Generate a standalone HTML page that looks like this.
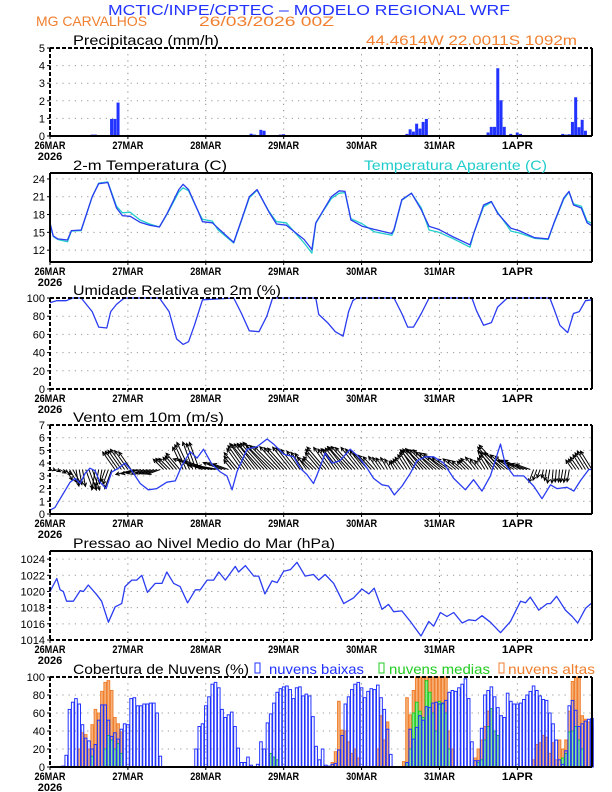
<!DOCTYPE html>
<html><head><meta charset="utf-8"><style>
html,body{margin:0;padding:0;background:#fff;}
svg{display:block;}
text{font-family:"Liberation Sans",sans-serif;}
</style></head><body>
<svg id="chart" width="612" height="792" viewBox="0 0 612 792" xmlns="http://www.w3.org/2000/svg">
<rect x="0" y="0" width="612" height="792" fill="#fff"/>
<text x="108" y="15" font-size="15" fill="#2233ff" textLength="402" lengthAdjust="spacingAndGlyphs">MCTIC/INPE/CPTEC – MODELO REGIONAL WRF</text>
<text x="36" y="26" font-size="14" fill="#f08030" textLength="111" lengthAdjust="spacingAndGlyphs">MG CARVALHOS</text>
<text x="199" y="26" font-size="14" fill="#f08030" textLength="135" lengthAdjust="spacingAndGlyphs">26/03/2026 00Z</text>
<text x="366" y="45" font-size="14" fill="#f08030" textLength="211" lengthAdjust="spacingAndGlyphs">44.4614W 22.0011S 1092m</text>
<g id="g"></g>
</svg>
<script>
const dayLabels = ["26MAR","27MAR","28MAR","29MAR","30MAR","31MAR","1APR"];
const precipHours = [8,13,14,19,20,21,62,63,65,66,71,72,73,110,111,112,113,114,115,116,133,135,136,137,138,139,140,142,144,145,157,158,159,160,161,162,163,164,165];
const precipVals = [0.02,0.08,0.08,0.97,0.97,1.9,0.13,0.08,0.35,0.3,0.08,0.1,0.05,0.12,0.38,0.25,0.7,0.42,0.8,0.97,0.02,0.2,0.52,0.52,3.85,2.03,0.52,0.12,0.2,0.12,0.05,0.12,0.08,0.1,0.8,2.2,0.5,0.92,0.3];
const tempHours = [0,1,2.4,5.4,6.6,9.6,13,15,17.8,20.5,22.3,24.7,27.7,30.7,33.7,36.1,39.7,41,42.7,45.7,47,50,51.8,56.6,59,61.4,63.8,67.4,69.8,72.8,78.3,80.7,81.9,84.3,86.7,89.1,90.9,92.7,96.3,99.9,105.3,106,108.4,111.4,114.4,116.8,119.8,124,129.4,130.6,133.6,136,137.9,142,144.5,149.3,153.5,155.3,158.3,159.9,161.3,163.7,165.5,167];
const tempVals = [16.6,14.4,13.9,13.7,15.3,15.4,21,23.2,23.4,19.1,17.8,17.7,16.7,16.2,15.9,18.2,22.2,23.1,22.2,18.5,16.8,16.6,15.7,13.3,17.1,21,22.2,18.5,16.4,16.2,13.8,12.1,16.6,18.8,21,22,21.9,17.1,16,15.5,14.8,15.5,20.5,21.6,18.8,16,15.5,14.3,12.9,14.9,19.6,20.2,18.2,15.7,15.3,14.1,13.9,16.6,20.8,21.9,19.6,19.1,16.6,16.1];
const appTempVals = [16.4,14.3,13.8,13.4,15.2,15.3,21,23.3,23.5,19.4,18.3,18.4,17.1,16.4,15.9,18.1,21.8,22.5,22,18.5,17.2,16.9,15.4,13.2,17,20.8,22.1,18.6,16.8,16.6,13.2,11.5,16.5,18.7,20.7,21.6,21.7,17.3,16.4,15.1,14.5,15.3,20.4,21.6,19.1,15.4,15.0,14.0,12.5,14.9,19.3,20.1,18.4,15.2,14.9,14.0,13.8,16.5,20.6,21.8,19.8,19.4,16.9,16.5];
const rhHours = [0,2,5,7,9.6,13,15,17.5,18.7,20.5,22.9,33.7,36.7,39,41,42.7,44.5,47,56.6,59,61.4,64.4,66.8,68.6,81.9,82.8,85.5,87.9,90.3,92,93.3,94.5,106,108.4,110.2,112,114.4,116.8,130,131.4,133.6,136,137.9,140.9,154,155.3,157.1,159.5,161.3,163.1,165,167];
const rhVals = [95,97,97,100,100,85,68,67,85,93,100,100,85,55,49,52,70,98,100,83,64,63,80,100,100,82,73,63,58,85,97,100,100,83,68,68,83,100,100,86,70,73,90,100,100,88,70,62,83,85,97,98];
const windHours = [0,1.5,3.6,6.2,7.7,9.3,10.8,12.3,13.9,15.4,17.3,19,21.1,23.1,25.2,27.8,30.3,32.9,36,38.6,40.6,43.2,45.3,47.3,49.9,52.5,54.5,56.1,57.6,60.7,63.8,66.9,68.9,72,75.1,77.1,79.2,81.2,82.8,84.8,86.9,89.4,92.5,95.1,97.7,99.7,102.3,104.3,106.1,108.5,111,113.1,115.6,118.2,121.3,124.4,128,130.5,133.1,135.7,138.8,140.3,142.9,146,149,151.6,154.2,156.2,159.3,161.4,163.4,166,167];
const windVals = [0.3,0.5,1.4,2.5,2.8,2.4,3.2,3.6,3.4,2.5,2.0,3.3,3.6,4.0,3.4,2.4,1.9,2.0,2.5,2.6,3.8,4.9,4.4,5.1,3.9,3.3,3.0,1.9,3.3,5.1,5.3,5.9,5.5,4.7,4.5,3.6,3.1,2.4,3.4,4.8,4.0,4.2,5.1,4.5,3.6,2.8,2.3,2.2,1.5,2.2,3.2,4.2,4.5,4.5,4.0,2.8,1.9,2.7,1.8,3.0,5.5,3.9,3.0,3.0,2.2,1.2,2.3,2.0,2.1,1.8,2.6,3.5,3.5];
const windDir3h = [20,30,60,80,70,100,110,235,235,165,160,160,225,230,245,250,200,190,200,230,235,232,228,225,228,232,235,225,230,235,232,228,232,228,235,240,235,238,230,225,220,215,220,225,232,238,228,220,210,200,110,100,95,100,235,238];
const presHours = [0,2.1,3.1,4.1,5.1,7.2,9.3,10.3,11.8,14.4,15.9,18,20.1,22.1,23.1,25.2,26.7,28.3,30,32.4,34.5,36,38.1,40.1,42.4,44.8,46.3,48.4,50.4,52,54,57.1,58.1,60.2,62.8,64.3,66.2,68.4,70,72,74.1,76.1,78.6,81.2,82.8,84.8,87.4,90.5,93.5,96.1,98.2,99.9,102.3,104.3,105.9,108.4,111,114.3,116.7,118.2,120.3,122.3,124.4,127,129,131.1,133.1,135.7,138.8,141.9,145,146.5,148,150.6,153.2,154.2,156.1,158.8,160.9,162.6,165,167];
const presVals = [1020,1021.6,1020.2,1020,1018.8,1018.8,1020.1,1020,1020.8,1019.6,1018.8,1016.2,1018.1,1018.5,1020.6,1021.4,1021.4,1022,1019.9,1021,1021,1022.4,1021,1020.6,1018.6,1020.2,1020.2,1021.4,1021.4,1022.4,1021.4,1023.1,1022.4,1023.2,1021.9,1021.9,1019.7,1021.3,1021.1,1022.5,1022.7,1023.6,1021.9,1022.1,1021.4,1022.1,1021,1018.5,1019.2,1020.3,1019.7,1020.4,1017.8,1018.4,1017.5,1017.6,1016.3,1014.5,1016.3,1015.7,1017.4,1016.9,1017.4,1016.1,1016.5,1016.4,1017,1016.2,1014.9,1016.3,1018.8,1018.6,1019.3,1017.7,1018.5,1018.5,1019.4,1017.7,1016.9,1016.1,1017.9,1018.6];
const cloudLow = [0,0,0,0,1,13,64,72,76,70,
47,32,29,20,25,52,69,69,52,34,
38,31,42,48,47,76,77,68,68,70,
70,71,71,60,12,0,0,0,0,0,
0,0,0,0,0,20,45,48,68,78,
92,94,88,64,55,58,61,45,21,5,
5,11,2,0,3,28,20,49,59,71,
83,87,89,90,86,76,88,89,79,81,
79,56,23,8,20,2,1,3,4,19,
35,70,78,86,92,94,88,77,84,87,
86,91,77,64,42,14,0,0,0,0,
5,42,31,44,57,52,67,66,71,72,
70,71,74,83,85,84,88,92,98,76,
28,7,7,43,80,85,89,78,66,57,
55,82,73,70,70,71,75,80,84,90,
85,79,75,74,60,48,30,8,3,18,
68,74,63,45,48,51,53,54];
const cloudMid = [0,0,0,0,0,0,0,0,0,0,0,0,
0,12,0,0,0,20,35,30,20,26,15,0,
0,0,0,0,0,0,0,0,0,0,0,0,
0,0,0,0,0,0,0,0,0,0,0,0,
0,0,0,0,0,0,0,0,0,0,0,0,
0,0,0,0,0,0,0,0,15,11,8,0,
0,0,0,0,0,0,0,0,0,0,0,0,
0,0,0,0,0,0,0,0,0,0,0,0,
0,0,0,0,0,0,0,0,0,0,0,0,
0,0,5,20,60,72,62,55,96,83,60,40,
73,70,60,20,0,0,0,0,0,0,0,0,
5,8,30,45,65,40,35,0,0,0,0,0,
0,0,0,0,0,0,0,0,0,0,0,0,
0,0,10,15,39,40,45,30,20,0,0,0];
const cloudHigh = [0,0,0,0,0,0,0,0,0,20,38,36,
20,47,64,60,84,94,96,85,55,48,39,0,
0,0,0,0,0,0,0,0,0,0,0,0,
0,0,0,0,0,0,0,0,0,0,0,0,
0,0,0,0,0,0,0,0,0,0,0,0,
0,0,0,0,0,0,0,0,0,0,0,0,
0,0,0,0,0,0,0,0,0,0,0,0,
0,0,0,5,17,73,41,40,28,15,20,10,
0,0,0,0,0,20,57,30,50,0,0,0,
0,6,77,58,85,100,100,100,100,100,100,100,
100,100,100,40,20,0,0,0,0,0,0,10,
20,30,45,62,40,20,0,0,0,0,0,0,
0,0,0,0,0,8,25,27,35,33,15,27,
8,30,20,30,62,95,100,100,57,53,50,45];

const NS = "http://www.w3.org/2000/svg";
const G = document.getElementById('g');
const X0 = 50, X1 = 592, HMAX = 167;
function xh(h){ return X0 + h*(X1-X0)/HMAX; }
function mk(tag, attrs, parent){
  const e = document.createElementNS(NS, tag);
  for (const k in attrs) e.setAttribute(k, attrs[k]);
  (parent||G).appendChild(e);
  return e;
}
function interp(hs, vs, h){
  if (h <= hs[0]) return vs[0];
  for (let i=1;i<hs.length;i++){ if (h <= hs[i]){ const t=(h-hs[i-1])/(hs[i]-hs[i-1]); return vs[i-1]+t*(vs[i]-vs[i-1]); } }
  return vs[vs.length-1];
}
function panel(name, top, bot, vmin, vmax, ticks, title, dash){
  const grp = mk('g', {});
  
  
  const y = v => bot - (v-vmin)*(bot-top)/(vmax-vmin);
  ticks.forEach(t => {
    if (t>vmin && t<vmax){
      const l = mk('line', {x1:X0,x2:X1,y1:y(t),y2:y(t),stroke:'#999','stroke-width':1,'stroke-dasharray':'1.2 5'}, grp);
      
      
    }
    const tl = mk('text', {x:45,y:y(t)+4,'font-size':11,'text-anchor':'end',fill:'#000'}, grp);
    tl.textContent = t;
    
    
    mk('line', {x1:X0-3,x2:X0,y1:y(t),y2:y(t),stroke:'#000','stroke-width':1}, grp);
  });
  for (let d=1; d<dayLabels.length; d++){
    const vl = mk('line', {x1:xh(d*24),x2:xh(d*24),y1:top,y2:bot,stroke:'#888','stroke-width':1,'stroke-dasharray':'1.2 5'}, grp);
    
    
  }
  dayLabels.forEach((lab,d) => {
    const tx = mk('text', {x:xh(d*24),y:bot+13,'font-size':11,'font-weight':'bold','text-anchor':'middle',fill:'#000',textLength:31,lengthAdjust:'spacingAndGlyphs'}, grp);
    tx.textContent = lab;
    
    
    mk('line', {x1:xh(d*24),x2:xh(d*24),y1:bot,y2:bot+3,stroke:'#000','stroke-width':1}, grp);
  });
  const yr = mk('text', {x:xh(0),y:bot+24,'font-size':11,'font-weight':'bold','text-anchor':'middle',fill:'#000'}, grp);
  yr.textContent = '2026';
  
  
  const tt = mk('text', {x:73,y:top-3,'font-size':14,fill:'#000',textLength:title[1],lengthAdjust:'spacingAndGlyphs'}, grp);
  tt.textContent = title[0];
  
  
  const plot = mk('g', {}, grp);
  const sides = [[X0,top,X1,top],[X1,top,X1,bot],[X0,bot,X1,bot],[X0,top,X0,bot]];
  const frame = mk('g', {}, grp);
  sides.forEach((s,i) => {
    const a = {x1:s[0],y1:s[1],x2:s[2],y2:s[3],stroke:'#000','stroke-width':2};
    if (dash[i]) a['stroke-dasharray'] = '4 2';
    mk('line', a, frame);
  });
  return {y, plot, top, bot};
}
function line(p, hs, vs, color, w, name){
  let d = '';
  hs.forEach((h,i) => { d += (i?'L':'M') + xh(h).toFixed(1) + ' ' + p.y(vs[i]).toFixed(1); });
  const e = mk('path', {d, fill:'none', stroke:color, 'stroke-width':w, 'stroke-linejoin':'round'}, p.plot);
  
  
}

const P1 = panel('precip-panel', 48, 136, 0, 5, [0,1,2,3,4,5], ['Precipitacao (mm/h)',146], [1,0,0,1]);
precipHours.forEach((h,i) => {
  const b = mk('rect', {x:xh(h)-1.6, y:P1.y(precipVals[i]), width:3.0, height:P1.bot-P1.y(precipVals[i]), fill:'#2233ff'}, P1.plot);
  
  
});

const P2 = panel('temperature-panel', 173, 262, 10, 25, [12,15,18,21,24], ['2-m Temperatura (C)',154], [0,0,0,0]);
line(P2, tempHours, appTempVals, '#22cccc', 1.3, 'apparent-temperature-line');
line(P2, tempHours, tempVals, '#2a3cf0', 1.3, 'temperature-line');
const at = mk('text', {x:364,y:170,'font-size':14,fill:'#22cccc',textLength:183,lengthAdjust:'spacingAndGlyphs'});
at.textContent = 'Temperatura Aparente (C)';



const P3 = panel('humidity-panel', 298, 389, 0, 100, [0,20,40,60,80,100], ['Umidade Relativa em 2m (%)',208], [1,0,1,1]);
line(P3, rhHours, rhVals, '#2a3cf0', 1.3, 'humidity-line');

const P4 = panel('wind-panel', 425, 514, 0, 7, [0,1,2,3,4,5,6,7], ['Vento em 10m (m/s)',151], [1,0,0,1]);
const baseY = P4.y(3.5);
for (let h=0; h<=HMAX; h++){
  const dir = windDir3h[Math.min(windDir3h.length-1, Math.round(h/3))] * Math.PI/180;
  const sp = interp(windHours, windVals, h);
  const L = sp*6.2;
  const x1 = xh(h), y1 = baseY;
  const x2 = x1 + L*Math.cos(dir), y2 = y1 + L*Math.sin(dir);
  const a1 = dir + Math.PI - 0.45, a2 = dir + Math.PI + 0.45;
  const d = `M${x1.toFixed(1)} ${y1.toFixed(1)}L${x2.toFixed(1)} ${y2.toFixed(1)}M${(x2+4*Math.cos(a1)).toFixed(1)} ${(y2+4*Math.sin(a1)).toFixed(1)}L${x2.toFixed(1)} ${y2.toFixed(1)}L${(x2+4*Math.cos(a2)).toFixed(1)} ${(y2+4*Math.sin(a2)).toFixed(1)}`;
  const ar = mk('path', {d, fill:'none', stroke:'#000', 'stroke-width':1}, P4.plot);
  
  
}
line(P4, windHours, windVals, '#2a3cf0', 1.3, 'wind-speed-line');

const P5 = panel('pressure-panel', 551, 640, 1014, 1025, [1014,1016,1018,1020,1022,1024], ['Pressao ao Nivel Medio do Mar (hPa)',262], [0,0,1,1]);
line(P5, presHours, presVals, '#2a3cf0', 1.3, 'pressure-line');

const P6 = panel('cloud-panel', 677, 767, 0, 100, [0,20,40,60,80,100], ['Cobertura de Nuvens (%)',176], [1,0,0,1]);
function cloudBars(arr, stroke, fill, name){
  arr.forEach((v,h) => {
    if (v <= 0) return;
    const r = mk('rect', {x:xh(h)-1.3, y:P6.y(v), width:2.6, height:P6.bot-P6.y(v), fill, stroke, 'stroke-width':1}, P6.plot);
    
    
  });
}
cloudBars(cloudHigh, '#f08030', '#f5b27a', 'high-cloud-bar');
cloudBars(cloudMid, '#22cc22', '#8fe88f', 'mid-cloud-bar');
cloudBars(cloudLow, '#2233ff', 'none', 'low-cloud-bar');
const legend = [['nuvens baixas','#2233ff',255,269,95],['nuvens medias','#22cc22',379,389,101],['nuvens altas','#f08030',499,508,87]];
legend.forEach(l => {
  const bx = mk('rect', {x:l[2], y:663, width:5, height:10, fill:'none', stroke:l[1], 'stroke-width':1});
  
  
  const t = mk('text', {x:l[3], y:674, 'font-size':14, fill:l[1], textLength:l[4], lengthAdjust:'spacingAndGlyphs'});
  t.textContent = l[0];
  
  
});
</script>
</body></html>
